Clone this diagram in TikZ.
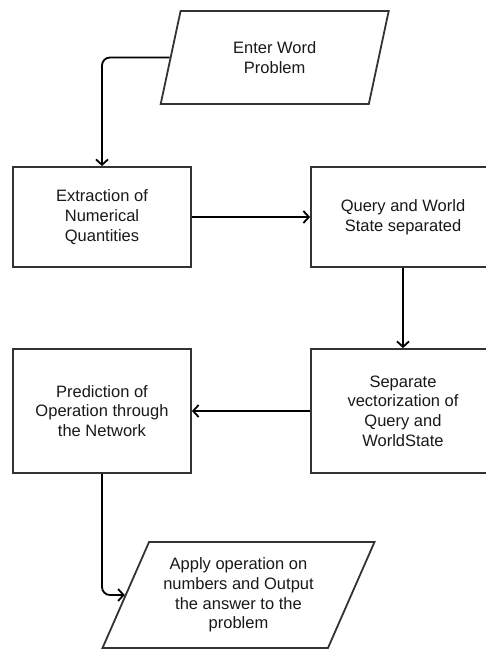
\documentclass[tikz,border=0pt]{standalone}
\usepackage{fontspec}
\setmainfont{Liberation Sans}
\usetikzlibrary{shapes.geometric,arrows.meta}
\begin{document}
\begin{tikzpicture}[x=1pt,y=-1pt,
  txt/.style={align=center,font=\fontsize{16.5}{19.7}\selectfont,text=black!90,inner sep=0pt},
  box/.style={txt,draw=black!80,line width=1.8pt,fill=white},
  para/.style={txt,trapezium,trapezium left angle=58,trapezium right angle=122,
    trapezium stretches body,draw=black!80,line width=1.8pt,fill=white},
  conn/.style={line width=1.8pt,rounded corners=8pt,-{Straight Barb[length=5.5pt,width=12pt]}}]
\useasboundingbox (0,0) rectangle (486,650);
\node[para,minimum width=228pt,minimum height=93pt] (enter) at (274.7,57.5) {Enter Word\\Problem};
\node[box,minimum width=178pt,minimum height=100pt] (extract) at (102,217) {Extraction of\\Numerical\\Quantities};
\node[box,minimum width=184pt,minimum height=100pt] (query) at (403,217) {Query and World\\State separated};
\node[box,minimum width=178pt,minimum height=124pt] (predict) at (102,411) {Prediction of\\Operation through\\the Network};
\node[box,minimum width=184pt,minimum height=124pt] (separate) at (403,411) {Separate\\vectorization of\\Query and\\WorldState};
\node[para,minimum width=272pt,minimum height=106pt] (apply) at (238.5,595) {Apply operation on\\numbers and Output\\the answer to the\\problem};
\draw[conn] (enter.west) -| (extract.north);
\draw[conn] (extract.east) -- (query.west);
\draw[conn] (query.south) -- (separate.north);
\draw[conn] (separate.west) -- (predict.east);
\draw[conn] (predict.south) |- (apply.west);
\end{tikzpicture}
\end{document}
